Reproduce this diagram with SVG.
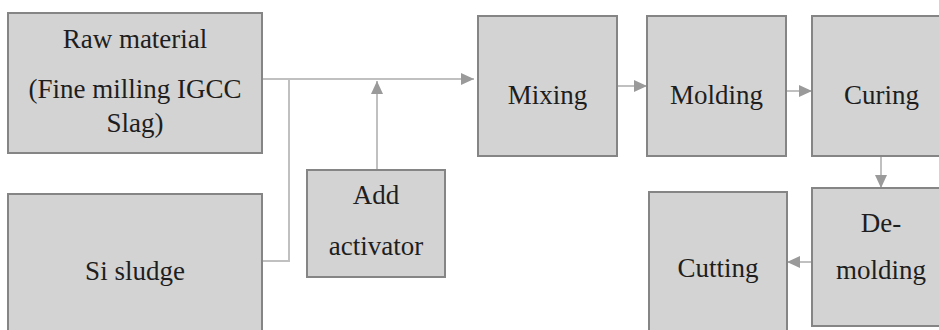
<svg xmlns="http://www.w3.org/2000/svg" width="939" height="330" viewBox="0 0 939 330">
<style>
.box{fill:#d3d3d3;stroke:#858585;stroke-width:2}
.t{font-family:"Liberation Serif","Times New Roman",serif;font-size:27px;fill:#1e1e1e;text-anchor:middle}
.c{fill:none;stroke:#c0c0c0;stroke-width:2}
</style>
<defs>
<marker id="ah" markerUnits="userSpaceOnUse" markerWidth="14" markerHeight="12" refX="13" refY="6" orient="auto">
<path d="M0,0 L13,6 L0,12 Z" fill="#9a9a9a"/>
</marker>
</defs>
<rect width="939" height="330" fill="#ffffff"/>
<g id="connectors">
<path class="c" d="M262,79 L474,79" marker-end="url(#ah)"/>
<path class="c" d="M289,79 L289,261 L262,261"/>
<path class="c" d="M377,170 L377,81" marker-end="url(#ah)"/>
<path class="c" d="M617,86 L647,86" marker-end="url(#ah)"/>
<path class="c" d="M786,91 L812,91" marker-end="url(#ah)"/>
<path class="c" d="M881,156 L881,188" marker-end="url(#ah)"/>
<path class="c" d="M812,262 L787,262" marker-end="url(#ah)"/>
</g>
<g id="raw">
<rect class="box" x="8" y="13" width="254" height="140"/>
<text class="t" x="135" y="48">Raw material</text>
<text class="t" x="135" y="98">(Fine milling IGCC</text>
<text class="t" x="135" y="132">Slag)</text>
</g>
<g id="sludge">
<rect class="box" x="8" y="194" width="254" height="150"/>
<text class="t" x="135" y="280">Si sludge</text>
</g>
<g id="activator">
<rect class="box" x="307" y="170" width="138" height="107"/>
<text class="t" x="376" y="204">Add</text>
<text class="t" x="376" y="255">activator</text>
</g>
<g id="mixing">
<rect class="box" x="478" y="16" width="139" height="140"/>
<text class="t" x="547.5" y="104">Mixing</text>
</g>
<g id="molding">
<rect class="box" x="647" y="16" width="139" height="140"/>
<text class="t" x="716.5" y="104">Molding</text>
</g>
<g id="curing">
<rect class="box" x="812" y="16" width="139" height="140"/>
<text class="t" x="881.5" y="104">Curing</text>
</g>
<g id="demolding">
<rect class="box" x="812" y="188" width="139" height="138"/>
<text class="t" x="881" y="232">De-</text>
<text class="t" x="881" y="279">molding</text>
</g>
<g id="cutting">
<rect class="box" x="649" y="192" width="138" height="150"/>
<text class="t" x="718" y="277">Cutting</text>
</g>
</svg>
